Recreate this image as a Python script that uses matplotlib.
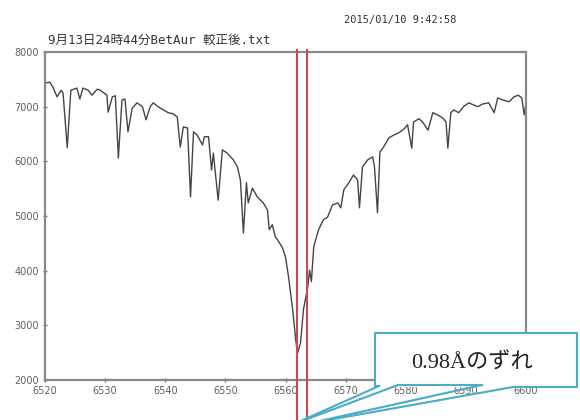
import matplotlib
matplotlib.use("Agg")
import matplotlib.pyplot as plt
from matplotlib.lines import Line2D
from matplotlib.patches import Polygon

# ---- data ----
wavelength = [
    6520.0, 6520.8, 6521.3, 6522.0, 6522.7, 6523.0, 6523.7, 6524.3, 6525.3, 6525.8,
    6526.3, 6527.2, 6527.8, 6528.7, 6529.2, 6530.3, 6530.5, 6531.2, 6531.7, 6532.2,
    6532.8, 6533.3, 6533.8, 6534.5, 6535.3, 6536.2, 6536.8, 6537.5, 6538.0, 6538.8,
    6539.7, 6540.5, 6541.3, 6542.0, 6542.5, 6543.0, 6543.7, 6544.2, 6544.7, 6545.3,
    6546.2, 6546.5, 6547.2, 6547.7, 6548.0, 6548.8, 6549.5, 6550.3, 6551.3, 6552.0,
    6552.5, 6553.0, 6553.5, 6553.8, 6554.5, 6555.3, 6556.3, 6557.0, 6557.3, 6557.8,
    6558.3, 6558.7, 6559.5, 6560.0, 6560.5, 6561.2, 6561.7, 6562.0, 6562.5, 6563.0,
    6563.7, 6564.0, 6564.3, 6564.7, 6565.5, 6566.3, 6567.0, 6567.8, 6568.7, 6569.2,
    6569.7, 6570.5, 6571.3, 6572.0, 6572.3, 6572.8, 6573.7, 6574.5, 6574.8, 6575.3,
    6575.7, 6576.3, 6577.2, 6578.0, 6578.8, 6579.7, 6580.3, 6581.0, 6581.3, 6582.2,
    6582.8, 6583.7, 6584.5, 6585.3, 6586.2, 6586.7, 6587.0, 6587.5, 6588.0, 6588.8,
    6589.7, 6590.5, 6591.3, 6592.0, 6592.8, 6593.8, 6594.7, 6595.3, 6596.2, 6597.2,
    6598.0, 6598.7, 6599.3, 6599.7, 6600.0,
]
intensity = [
    7430, 7450, 7360, 7180, 7300, 7250, 6250, 7300, 7340, 7140,
    7340, 7300, 7210, 7320, 7300, 7210, 6900, 7180, 7200, 6060,
    7120, 7140, 6540, 6970, 7070, 7000, 6760, 7000, 7070, 7000,
    6940, 6890, 6870, 6810, 6260, 6630, 6610, 5350, 6540, 6480,
    6300, 6450, 6450, 5840, 6150, 5290, 6210, 6150, 6030, 5900,
    5660, 4690, 5610, 5240, 5510, 5350, 5240, 5110, 4750, 4840,
    4620, 4560, 4420, 4250, 3890, 3280, 2730, 2490, 2680, 3300,
    3700, 4010, 3800, 4440, 4750, 4930, 4980, 5200, 5240, 5150,
    5480, 5600, 5750, 5660, 5150, 5900, 6030, 6080, 5900, 5060,
    6170, 6260, 6430, 6480, 6520, 6590, 6670, 6240, 6720, 6780,
    6720, 6570, 6890, 6850, 6790, 6720, 6240, 6890, 6940, 6890,
    7010, 7070, 7030, 7000, 7050, 7070, 6890, 7160, 7120, 7090,
    7180, 7210, 7160, 6850, 7070,
]
x_ticks = [6520, 6530, 6540, 6550, 6560, 6570, 6580, 6590, 6600]
y_ticks = [2000, 3000, 4000, 5000, 6000, 7000, 8000]
marker_lines = [6561.95, 6563.6]
title_text = "9月13日24時44分BetAur 較正後.txt"
stamp_text = "2015/01/10 9:42:58"
callout_text = "0.98Åのずれ"

W, H = 580, 420
fig = plt.figure(figsize=(W / 100, H / 100), dpi=100)
fig.patch.set_facecolor("white")

def fx(px):
    return px / W

def fy(py):
    return 1 - py / H

ax = fig.add_axes([fx(45), fy(380), fx(526) - fx(45), fy(52) - fy(380)])
ax.plot(wavelength, intensity, color="#454545", lw=1.0)
ax.set_xlim(6520, 6600)
ax.set_ylim(2000, 8000)
ax.set_xticks(x_ticks)
ax.set_yticks(y_ticks)
ax.tick_params(direction="inout", length=3, width=1, color="#777777",
               labelsize=7, labelcolor="#606060", pad=3)
for s in ax.spines.values():
    s.set_color("#8a8a8a")
    s.set_linewidth(1.6)

# red vertical marker lines extending to the bottom of the figure
for xv in marker_lines:
    ax.axvline(xv, ymin=-0.13, ymax=1.006, color="#c0504d", lw=1.5, clip_on=False, zorder=5)

mono = ["DejaVu Sans Mono", "Noto Sans CJK JP"]
fig.text(fx(48), fy(40), title_text, family=mono, fontsize=9, color="#333333",
         ha="left", va="center")
fig.text(fx(457), fy(20), stamp_text, family=mono, fontsize=7.5, color="#333333",
         ha="right", va="center")

# callout box
teal = "#4bacc6"
box = Polygon([(fx(375), fy(333)), (fx(577), fy(333)), (fx(577), fy(387)), (fx(375), fy(387))],
              closed=True, transform=fig.transFigure, facecolor="white", edgecolor="none", zorder=10)
fig.add_artist(box)
edge_paths = [
    [(513, 387), (577, 387), (577, 333), (375, 333), (375, 386), (379, 386)],
    [(398, 385), (482, 385)],
    [(379, 386), (294, 424)],
    [(398, 385), (294, 424)],
    [(482, 385), (306, 424)],
    [(513, 387), (306, 424)],
]
for path in edge_paths:
    xs = [fx(p[0]) for p in path]
    ys = [fy(p[1]) for p in path]
    fig.add_artist(Line2D(xs, ys, transform=fig.transFigure, color=teal, lw=1.5, zorder=11))

fig.text(fx(472), fy(364), callout_text, family=["Liberation Serif", "Noto Sans CJK JP"],
         fontsize=16, color="#222222", ha="center", va="center", zorder=12)

fig.savefig("out.png", dpi=100, facecolor="white")
